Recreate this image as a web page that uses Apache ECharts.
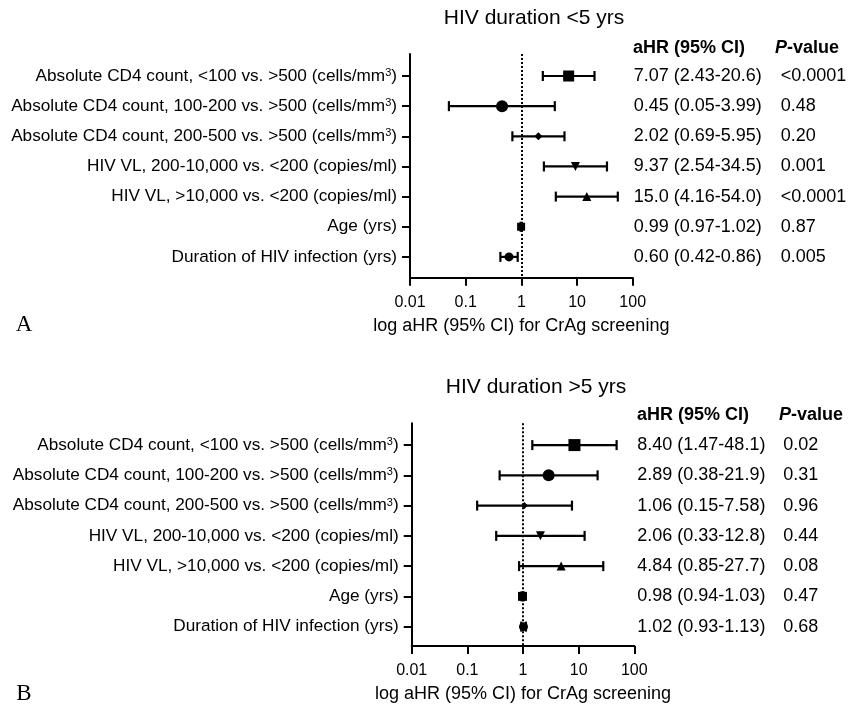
<!DOCTYPE html>
<html>
<head>
<meta charset="utf-8">
<script src="https://cdn.jsdelivr.net/npm/echarts@6/dist/echarts.min.js"></script>
<style>html,body{margin:0;padding:0;background:#fff}#c{width:859px;height:708px}</style>
</head>
<body>
<div id="c"></div>
<script>
// ---- data ----
const rowLabels = [
  'Absolute CD4 count, <100 vs. >500 (cells/mm{sup|3})',
  'Absolute CD4 count, 100-200 vs. >500 (cells/mm{sup|3})',
  'Absolute CD4 count, 200-500 vs. >500 (cells/mm{sup|3})',
  'HIV VL, 200-10,000 vs. <200 (copies/ml)',
  'HIV VL, >10,000 vs. <200 (copies/ml)',
  'Age (yrs)',
  'Duration of HIV infection (yrs)'
];
const xTickLabels = ['0.01', '0.1', '1', '10', '100'];

const hrA = [7.07, 0.45, 2.02, 9.37, 15.0, 0.99, 0.60];
const loA = [2.43, 0.05, 0.69, 2.54, 4.16, 0.97, 0.42];
const hiA = [20.6, 3.99, 5.95, 34.5, 54.0, 1.02, 0.86];
const ciTextA = ['7.07 (2.43-20.6)', '0.45 (0.05-3.99)', '2.02 (0.69-5.95)', '9.37 (2.54-34.5)', '15.0 (4.16-54.0)', '0.99 (0.97-1.02)', '0.60 (0.42-0.86)'];
const pTextA = ['<0.0001', '0.48', '0.20', '0.001', '<0.0001', '0.87', '0.005'];

const hrB = [8.40, 2.89, 1.06, 2.06, 4.84, 0.98, 1.02];
const loB = [1.47, 0.38, 0.15, 0.33, 0.85, 0.94, 0.93];
const hiB = [48.1, 21.9, 7.58, 12.8, 27.7, 1.03, 1.13];
const ciTextB = ['8.40 (1.47-48.1)', '2.89 (0.38-21.9)', '1.06 (0.15-7.58)', '2.06 (0.33-12.8)', '4.84 (0.85-27.7)', '0.98 (0.94-1.03)', '1.02 (0.93-1.13)'];
const pTextB = ['0.02', '0.31', '0.96', '0.44', '0.08', '0.47', '0.68'];

// ---- styles ----
const FONT = '"Liberation Sans", Arial, sans-serif';
const markerShapes = ['rect', 'circle', 'diamond', 'triangle', 'triangle', 'rect', 'circle'];
const markerRotate = [0, 0, 0, 180, 0, 0, 0];
const markerSizeA = [11, 12, 8, 9, 9, 8, 9];
const markerSizeB = [12, 12, 7, 9, 9, 9, 9];
const rows = rowLabels.map((_, i) => i);

const panels = [
  {grid: {left: 410, top: 54, width: 222.7, height: 223.7}, yMin: -0.73, yMax: 6.69,
   hr: hrA, lo: loA, hi: hiA, ci: ciTextA, p: pTextA, size: markerSizeA, ciMargin: 1, pOffset: 148},
  {grid: {left: 411.7, top: 423.3, width: 222.6, height: 222.7}, yMin: -0.72, yMax: 6.64,
   hr: hrB, lo: loB, hi: hiB, ci: ciTextB, p: pTextB, size: markerSizeB, ciMargin: 3, pOffset: 149}
];

const grids = [], xAxes = [], yAxes = [], series = [];
panels.forEach((P, g) => {
  grids.push(P.grid);
  xAxes.push({
    gridIndex: g, type: 'log', logBase: 10, min: 0.01, max: 100,
    axisLine: {onZero: false, lineStyle: {color: '#000', width: 2}},
    axisTick: {length: 8, lineStyle: {color: '#000', width: 2}},
    minorTick: {show: false}, splitLine: {show: false},
    axisLabel: {fontSize: 16, color: '#000', fontFamily: FONT, margin: 17,
      formatter: v => xTickLabels[Math.round(Math.log10(v)) + 2]},
    name: 'log aHR (95% CI) for CrAg screening', nameLocation: 'middle', nameGap: 39,
    nameTextStyle: {fontSize: 18, color: '#000', fontFamily: FONT}
  });
  const base = yAxes.length;
  yAxes.push({
    gridIndex: g, type: 'value', inverse: true, min: P.yMin, max: P.yMax, position: 'left',
    axisLine: {show: true, onZero: false, lineStyle: {color: '#000', width: 2}},
    axisTick: {show: true, customValues: rows, length: 8, lineStyle: {color: '#000', width: 2}},
    splitLine: {show: false},
    axisLabel: {customValues: rows, formatter: v => rowLabels[v], margin: 13, fontSize: 17.2, color: '#000', fontFamily: FONT,
      rich: {sup: {fontSize: 11, fontFamily: FONT, color: '#000', verticalAlign: 'top', lineHeight: 12, padding: [0, 0, 6, 0]}}}
  });
  yAxes.push({
    gridIndex: g, type: 'value', inverse: true, min: P.yMin, max: P.yMax, position: 'right', offset: 0,
    axisLine: {show: false}, axisTick: {show: false}, splitLine: {show: false},
    axisLabel: {customValues: rows, formatter: v => P.ci[v], margin: P.ciMargin, fontSize: 18, color: '#000', fontFamily: FONT, align: 'left'}
  });
  yAxes.push({
    gridIndex: g, type: 'value', inverse: true, min: P.yMin, max: P.yMax, position: 'right', offset: P.pOffset,
    axisLine: {show: false}, axisTick: {show: false}, splitLine: {show: false},
    axisLabel: {customValues: rows, formatter: v => P.p[v], margin: 0, fontSize: 18, color: '#000', fontFamily: FONT, align: 'left'}
  });
  series.push({
    type: 'custom', xAxisIndex: g, yAxisIndex: base, z: 3,
    data: P.lo.map((l, i) => [l, P.hi[i], i]),
    encode: {x: [0, 1], y: 2},
    renderItem: (params, api) => {
      const a = api.coord([api.value(0), api.value(2)]);
      const b = api.coord([api.value(1), api.value(2)]);
      const h = 5, st = {stroke: '#000', lineWidth: 2.2};
      return {type: 'group', children: [
        {type: 'line', shape: {x1: a[0], y1: a[1], x2: b[0], y2: b[1]}, style: st},
        {type: 'line', shape: {x1: a[0], y1: a[1] - h, x2: a[0], y2: a[1] + h}, style: st},
        {type: 'line', shape: {x1: b[0], y1: b[1] - h, x2: b[0], y2: b[1] + h}, style: st}
      ]};
    }
  });
  series.push({
    type: 'scatter', xAxisIndex: g, yAxisIndex: base, z: 4,
    itemStyle: {color: '#000', opacity: 1},
    data: P.hr.map((v, i) => ({value: [v, i], symbol: markerShapes[i], symbolRotate: markerRotate[i], symbolSize: P.size[i]})),
    markLine: {silent: true, symbol: ['none', 'none'], label: {show: false},
      lineStyle: {color: '#000', width: 2, type: [2, 2]}, data: [{xAxis: 1}]}
  });
});

const graphics = [
  {type: 'text', x: 534, y: 18, style: {text: 'HIV duration <5 yrs', font: '21px ' + FONT, fill: '#000', textAlign: 'center', textVerticalAlign: 'middle'}},
  {type: 'text', x: 633, y: 48, style: {text: 'aHR (95% CI)', font: 'bold 18px ' + FONT, fill: '#000', textAlign: 'left', textVerticalAlign: 'middle'}},
  {type: 'text', x: 775, y: 48, style: {text: '{i|P}-value', font: 'bold 18px ' + FONT, fill: '#000', textAlign: 'left', textVerticalAlign: 'middle',
    rich: {i: {fontStyle: 'italic', fontWeight: 'bold', fontSize: 18, fontFamily: FONT}}}},
  {type: 'text', x: 24, y: 325, style: {text: 'A', font: '23px "Liberation Serif", "Times New Roman", serif', fill: '#000', textAlign: 'center', textVerticalAlign: 'middle'}},
  {type: 'text', x: 536, y: 387, style: {text: 'HIV duration >5 yrs', font: '21px ' + FONT, fill: '#000', textAlign: 'center', textVerticalAlign: 'middle'}},
  {type: 'text', x: 637, y: 415, style: {text: 'aHR (95% CI)', font: 'bold 18px ' + FONT, fill: '#000', textAlign: 'left', textVerticalAlign: 'middle'}},
  {type: 'text', x: 779, y: 415, style: {text: '{i|P}-value', font: 'bold 18px ' + FONT, fill: '#000', textAlign: 'left', textVerticalAlign: 'middle',
    rich: {i: {fontStyle: 'italic', fontWeight: 'bold', fontSize: 18, fontFamily: FONT}}}},
  {type: 'text', x: 24, y: 694, style: {text: 'B', font: '23px "Liberation Serif", "Times New Roman", serif', fill: '#000', textAlign: 'center', textVerticalAlign: 'middle'}}
];

const chart = echarts.init(document.getElementById('c'), null, {renderer: 'canvas'});
chart.setOption({
  backgroundColor: '#fff',
  animation: false,
  grid: grids, xAxis: xAxes, yAxis: yAxes, series: series, graphic: graphics
});
</script>
</body>
</html>
